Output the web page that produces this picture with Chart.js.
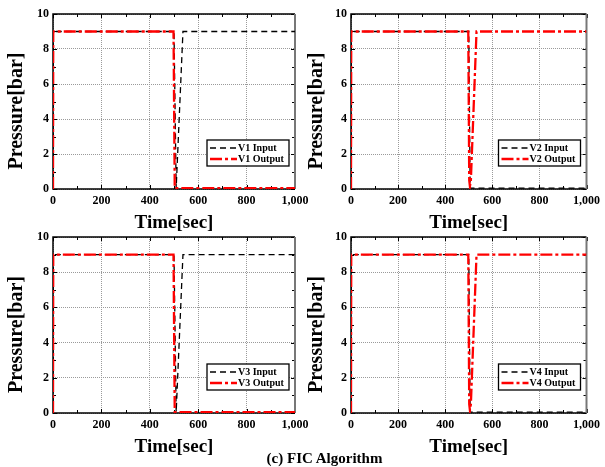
<!DOCTYPE html>
<html>
<head>
<meta charset="utf-8">
<script src="https://cdn.jsdelivr.net/npm/chart.js@4"></script>
<style>
  body { margin: 0; background: #fff; width: 605px; height: 467px; position: relative; overflow: hidden; }
  .panel { position: absolute; }
  #caption { position: absolute; left: 0; width: 649px; top: 450px; text-align: center;
             font: bold 15px "Liberation Serif", "Times New Roman", serif; color: #000; }
</style>
</head>
<body>
<div class="panel" style="left:0;top:0"><canvas id="c1" width="320" height="235"></canvas></div>
<div class="panel" style="left:300px;top:0"><canvas id="c2" width="305" height="235"></canvas></div>
<div class="panel" style="left:0;top:225px"><canvas id="c3" width="320" height="234"></canvas></div>
<div class="panel" style="left:300px;top:225px"><canvas id="c4" width="305" height="234"></canvas></div>
<div id="caption">(c) FIC Algorithm</div>

<script>
// valores (tiempo en s, presion en bar)
const v1InTime = [0, 1, 500, 509, 537, 1000];
const v1InP    = [0, 9, 9, 0.05, 9, 9];
const v1OutTime = [0, 1, 498, 503, 1000];
const v1OutP    = [0, 9, 9, 0.05, 0.05];

const v2InTime = [0, 1, 500, 506, 1000];
const v2InP    = [0, 9, 9, 0.05, 0.05];
const v2OutTime = [0, 1, 498, 502, 505, 509, 533, 1000];
const v2OutP    = [0, 9, 9, 0.5, 0.15, 0.5, 9, 9];

const v3InTime = [0, 1, 500, 509, 537, 1000];
const v3InP    = [0, 9, 9, 0.05, 9, 9];
const v3OutTime = [0, 1, 498, 503, 1000];
const v3OutP    = [0, 9, 9, 0.05, 0.05];

const v4InTime = [0, 1, 500, 506, 1000];
const v4InP    = [0, 9, 9, 0.05, 0.05];
const v4OutTime = [0, 1, 498, 502, 505, 509, 533, 1000];
const v4OutP    = [0, 9, 9, 0.5, 0.15, 0.5, 9, 9];

const FONT = '"Liberation Serif", "Times New Roman", serif';

// marco, ticks hacia dentro
const framePlugin = {
  id: 'frame',
  beforeDatasetsDraw(chart) {
    const { ctx, chartArea: a, scales: { x, y } } = chart;
    ctx.save();
    ctx.strokeStyle = '#000';
    ctx.lineWidth = 1;
    ctx.beginPath();
    for (let t = 0; t <= 1000; t += 100) {
      const px = Math.round(x.getPixelForValue(t)) + 0.5;
      const len = t % 200 === 0 ? 4 : 3;
      ctx.moveTo(px, a.bottom); ctx.lineTo(px, a.bottom - len);
      ctx.moveTo(px, a.top); ctx.lineTo(px, a.top + len);
    }
    for (let v = 0; v <= 10; v += 1) {
      const py = Math.round(y.getPixelForValue(v)) + 0.5;
      const len = v % 2 === 0 ? 4 : 3;
      ctx.moveTo(a.left, py); ctx.lineTo(a.left + len, py);
      ctx.moveTo(a.right, py); ctx.lineTo(a.right - len, py);
    }
    ctx.stroke();

    ctx.lineWidth = 1.5;
    ctx.beginPath();
    ctx.moveTo(a.right, a.top); ctx.lineTo(a.left, a.top);
    ctx.lineTo(a.left, a.bottom); ctx.lineTo(a.right, a.bottom);
    ctx.stroke();
    ctx.strokeStyle = '#777';
    ctx.lineWidth = 2;
    ctx.beginPath();
    ctx.moveTo(a.right, a.top); ctx.lineTo(a.right, a.bottom);
    ctx.stroke();
    ctx.restore();
  }
};

// leyenda con recuadro abajo a la derecha
const boxLegend = {
  id: 'boxLegend',
  afterDatasetsDraw(chart) {
    const { ctx, chartArea: a } = chart;
    const w = 82, h = 26;
    const left = a.right - 6 - w, top = a.bottom - 23 - h;
    ctx.save();
    ctx.fillStyle = '#fff';
    ctx.fillRect(left, top, w, h);
    ctx.strokeStyle = '#000';
    ctx.lineWidth = 1.3;
    ctx.strokeRect(left, top, w, h);
    const orden = [chart.data.datasets[1], chart.data.datasets[0]];
    orden.forEach((ds, i) => {
      const yy = top + 8 + i * 11;
      ctx.strokeStyle = ds.borderColor;
      ctx.lineWidth = ds.borderWidth;
      ctx.setLineDash(ds.borderDash);
      ctx.beginPath();
      ctx.moveTo(left + 3, yy); ctx.lineTo(left + 30, yy);
      ctx.stroke();
      ctx.setLineDash([]);
      ctx.fillStyle = '#000';
      ctx.font = 'bold 10px ' + FONT;
      ctx.textAlign = 'left';
      ctx.textBaseline = 'middle';
      ctx.fillText(ds.label, left + 31, yy + 0.5);
    });
    ctx.restore();
  }
};

function crearPanel(id, nombre, inT, inP, outT, outP, pad, yWidth) {
  const toXY = (ts, ps) => ts.map((t, i) => ({ x: t, y: ps[i] }));
  new Chart(document.getElementById(id), {
    type: 'line',
    data: {
      datasets: [
        {
          label: nombre + ' Output',
          data: toXY(outT, outP),
          borderColor: '#ff0000',
          borderWidth: 2.3,
          borderDash: [12, 3, 3, 3],
          pointRadius: 0,
          tension: 0,
          order: 1
        },
        {
          label: nombre + ' Input',
          data: toXY(inT, inP),
          borderColor: '#000',
          borderWidth: 1.3,
          borderDash: [6, 4],
          pointRadius: 0,
          tension: 0,
          order: 2
        }
      ]
    },
    options: {
      responsive: false,
      animation: false,
      layout: { padding: pad },
      plugins: { legend: { display: false }, tooltip: { enabled: false } },
      scales: {
        x: {
          type: 'linear', min: 0, max: 1000,
          afterFit: s => { s.height = 46; },
          ticks: { stepSize: 200, padding: 5, color: '#000', font: { family: FONT, size: 12, weight: 'bold' } },
          grid: { color: '#9a9a9a', lineWidth: 1, drawTicks: false },
          border: { display: false, dash: [1, 1] },
          title: { display: true, text: 'Time[sec]', color: '#000', padding: { top: 0, bottom: 1 },
                   font: { family: FONT, size: 19, weight: 'bold', lineHeight: 1.2 } }
        },
        y: {
          min: 0, max: 10,
          afterFit: s => { s.width = yWidth; },
          ticks: { stepSize: 2, padding: 4, color: '#000', font: { family: FONT, size: 12, weight: 'bold' } },
          grid: { color: '#9a9a9a', lineWidth: 1, drawTicks: false },
          border: { display: false, dash: [1, 1] },
          // espacios al final para bajar un poco el titulo, como en la figura
          title: { display: true, text: 'Pressure[bar]\u00a0\u00a0\u00a0\u2009', color: '#000', padding: { top: 5, bottom: 0 },
                   font: { family: FONT, size: 20, weight: 'bold', lineHeight: 1.2 } }
        }
      }
    },
    plugins: [framePlugin, boxLegend]
  });
}

crearPanel('c1', 'V1', v1InTime, v1InP, v1OutTime, v1OutP, { left: 0, top: 14, right: 25, bottom: 0 }, 53);
crearPanel('c2', 'V2', v2InTime, v2InP, v2OutTime, v2OutP, { left: 0, top: 14, right: 13, bottom: 0 }, 51);
crearPanel('c3', 'V3', v3InTime, v3InP, v3OutTime, v3OutP, { left: 0, top: 12, right: 25, bottom: 0 }, 53);
crearPanel('c4', 'V4', v4InTime, v4InP, v4OutTime, v4OutP, { left: 0, top: 12, right: 13, bottom: 0 }, 51);
</script>
</body>
</html>
